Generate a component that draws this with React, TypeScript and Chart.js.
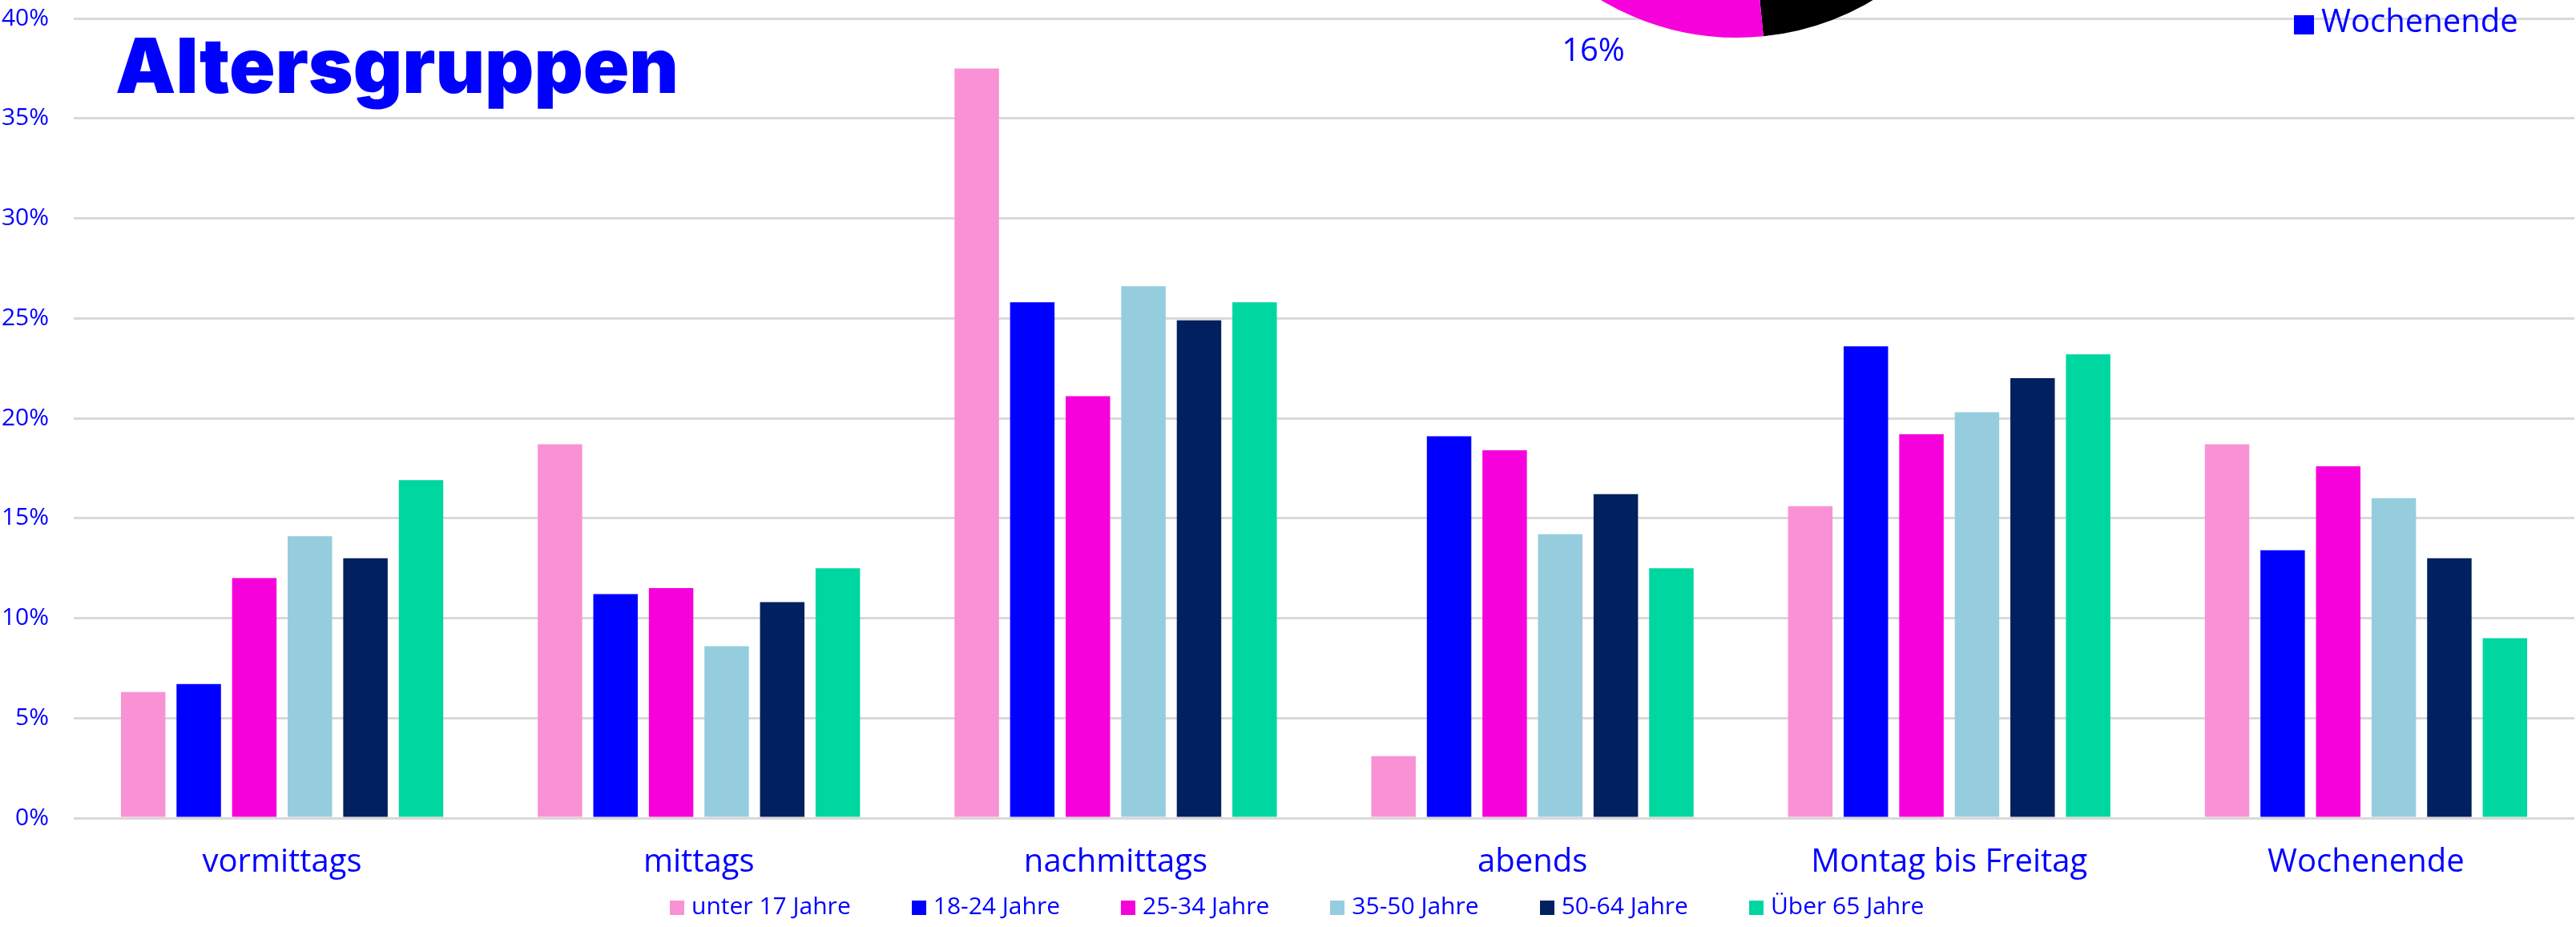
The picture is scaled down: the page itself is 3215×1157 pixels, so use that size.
import React, { useEffect, useRef } from "react";
import { Chart, registerables } from "chart.js";

Chart.register(...registerables);

const WIDTH = 3215;
const HEIGHT = 1157;
const TEXT_BLUE = "#0000FF";
const FONT = "'Open Sans', 'Noto Sans', sans-serif";

// Time-of-day / weekday categories on the x axis
const categories = ["vormittags", "mittags", "nachmittags", "abends", "Montag bis Freitag", "Wochenende"];

// Age groups (one bar series each), values in percent
const seriesNames = ["unter 17 Jahre", "18-24 Jahre", "25-34 Jahre", "35-50 Jahre", "50-64 Jahre", "Über 65 Jahre"];
const seriesColors = ["#F892D4", "#0000FF", "#F600DC", "#95CDDE", "#002060", "#00D6A0"];
const under17 = [6.3, 18.7, 37.5, 3.1, 15.6, 18.7];
const age18to24 = [6.7, 11.2, 25.8, 19.1, 23.6, 13.4];
const age25to34 = [12.0, 11.5, 21.1, 18.4, 19.2, 17.6];
const age35to50 = [14.1, 8.6, 26.6, 14.2, 20.3, 16.0];
const age50to64 = [13.0, 10.8, 24.9, 16.2, 22.0, 13.0];
const over65 = [16.9, 12.5, 25.8, 12.5, 23.2, 9.0];
const seriesValues = [under17, age18to24, age25to34, age35to50, age50to64, over65];

// Y axis range and tick step (percent)
const yMin = 0;
const yMax = 40;
const yStep = 5;

// Pie at the top edge: weekday vs. weekend share
const pieLabels = ["Montag bis Freitag", "Wochenende"];
const pieValues = [84, 16];
const pieColors = ["#000000", "#F600DC"];

// Percent labels just outside each pie slice
const pieOutsideLabels = {
  id: "pieOutsideLabels",
  afterDatasetsDraw(chart: any) {
    const { ctx } = chart;
    const meta = chart.getDatasetMeta(0);
    const data = chart.data.datasets[0].data;
    ctx.save();
    ctx.fillStyle = TEXT_BLUE;
    ctx.font = `40px ${FONT}`;
    meta.data.forEach((arc: any, i: number) => {
      const p = arc.getProps(["x", "y", "startAngle", "endAngle", "outerRadius"], true);
      const mid = (p.startAngle + p.endAngle) / 2;
      const d = p.outerRadius + 26;
      const ax = p.x + Math.cos(mid) * d;
      const ay = p.y + Math.sin(mid) * d;
      ctx.textAlign = Math.cos(mid) < 0 ? "right" : "left";
      ctx.textBaseline = Math.sin(mid) > 0 ? "top" : "bottom";
      ctx.fillText(`${data[i]}%`, ax, ay);
    });
    ctx.restore();
  },
};

export default function App() {
  const barRef = useRef<HTMLCanvasElement | null>(null);
  const pieRef = useRef<HTMLCanvasElement | null>(null);

  useEffect(() => {
    document.body.style.margin = "0";
    let barChart: Chart | null = null;
    let pieChart: Chart | null = null;
    let cancelled = false;

    const build = () => {
      if (cancelled || !barRef.current || !pieRef.current) return;
      barChart = new Chart(barRef.current, {
        type: "bar",
        data: {
          labels: categories,
          datasets: seriesNames.map((name, i) => ({
            label: name,
            data: seriesValues[i],
            backgroundColor: seriesColors[i],
            borderWidth: 0,
            categoryPercentage: 0.8,
            barPercentage: 0.8,
          })),
        },
        options: {
          responsive: false,
          animation: false,
          devicePixelRatio: 1,
          layout: { padding: { top: 23, right: 2, left: 0, bottom: 36 } },
          plugins: {
            title: { display: false },
            tooltip: { enabled: false },
            legend: { display: false },
          },
          scales: {
            x: {
              grid: { display: false },
              border: { display: false },
              ticks: {
                color: TEXT_BLUE,
                font: { family: FONT, size: 40 },
                padding: 24,
                maxRotation: 0,
                autoSkip: false,
              },
              afterFit: (s: any) => {
                s.height = 100;
                s.paddingLeft = 0;
                s.paddingRight = 0;
              },
            },
            y: {
              min: yMin,
              max: yMax,
              grid: { color: "#D9D9D9", lineWidth: 3, drawTicks: false },
              border: { display: false },
              ticks: {
                stepSize: yStep,
                color: TEXT_BLUE,
                font: { family: FONT, size: 30 },
                padding: 31,
                callback: (v: any) => `${v}%`,
              },
              afterFit: (s: any) => {
                s.width = 92;
                s.paddingTop = 0;
                s.paddingBottom = 0;
              },
            },
          },
        },
      });

      pieChart = new Chart(pieRef.current, {
        type: "pie",
        data: {
          labels: pieLabels,
          datasets: [
            {
              data: pieValues,
              backgroundColor: pieColors,
              borderWidth: 0,
            },
          ],
        },
        options: {
          responsive: false,
          animation: false,
          devicePixelRatio: 1,
          rotation: -128.1,
          layout: { padding: 119 },
          plugins: {
            legend: { display: false },
            tooltip: { enabled: false },
          },
        },
        plugins: [pieOutsideLabels],
      });
    };

    const fontsReady = (document as any).fonts
      ? Promise.all([
          (document as any).fonts.load(`30px 'Open Sans'`),
          (document as any).fonts.load(`900 90px 'Inter'`),
        ]).catch(() => null)
      : Promise.resolve(null);
    fontsReady.then(build);

    return () => {
      cancelled = true;
      if (barChart) barChart.destroy();
      if (pieChart) pieChart.destroy();
    };
  }, []);

  return (
    <div
      style={{
        position: "fixed",
        left: 0,
        top: 0,
        width: WIDTH,
        height: HEIGHT,
        overflow: "hidden",
        background: "#ffffff",
      }}
    >
      <canvas
        ref={barRef}
        width={WIDTH}
        height={HEIGHT}
        style={{ position: "absolute", left: 0, top: 0, width: WIDTH, height: HEIGHT }}
      />
      <canvas
        ref={pieRef}
        width={900}
        height={900}
        style={{ position: "absolute", left: 1718, top: -734, width: 900, height: 900 }}
      />
      <div
        style={{
          position: "absolute",
          left: 144,
          top: 34,
          fontFamily: "Inter, 'DejaVu Sans', sans-serif",
          fontWeight: 900,
          fontSize: 95,
          lineHeight: "95px",
          color: TEXT_BLUE,
          whiteSpace: "nowrap",
        }}
      >
        Altersgruppen
      </div>
      <div
        style={{
          position: "absolute",
          left: 2863,
          top: 5,
          display: "flex",
          alignItems: "flex-start",
          fontFamily: FONT,
          fontSize: 40,
          lineHeight: "40px",
          color: TEXT_BLUE,
          whiteSpace: "nowrap",
        }}
      >
        <span style={{ display: "inline-block", width: 25, height: 24, marginTop: 14, marginRight: 9, background: TEXT_BLUE }} />
        <span>Wochenende</span>
      </div>
      <div
        style={{
          position: "absolute",
          left: 836,
          top: 1115,
          display: "flex",
          alignItems: "flex-start",
          gap: 76,
          fontFamily: FONT,
          fontSize: 30,
          lineHeight: "30px",
          color: TEXT_BLUE,
          whiteSpace: "nowrap",
        }}
      >
        {seriesNames.map((name, i) => (
          <div key={name} style={{ display: "flex", alignItems: "flex-start" }}>
            <span
              style={{
                display: "inline-block",
                width: 18,
                height: 18,
                marginTop: 9,
                marginRight: 9,
                background: seriesColors[i],
              }}
            />
            <span>{name}</span>
          </div>
        ))}
      </div>
    </div>
  );
}
